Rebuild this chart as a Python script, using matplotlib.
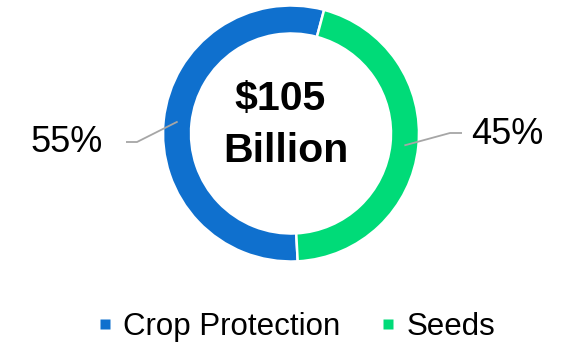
import matplotlib
matplotlib.use("Agg")
import matplotlib.pyplot as plt
from matplotlib.lines import Line2D
import numpy as np

categories = ["Crop Protection", "Seeds"]
shares = [55, 45]
pct_labels = ["55%", "45%"]
center_lines = ["$105", "Billion"]
colors = ["#0F70CE", "#00DB78"]

W, H = 564, 345
fig = plt.figure(figsize=(W / 100, H / 100), dpi=100)
ax = fig.add_axes([0, 0, 1, 1])

cx, cy = 291, 211.5
R, ring = 128, 28
start = -87

wedges, _ = ax.pie(shares, colors=colors, startangle=start, counterclock=False,
                   radius=R, center=(cx, cy),
                   wedgeprops=dict(width=ring, edgecolor="white", linewidth=1.8))
ax.set_xlim(0, W)
ax.set_ylim(0, H)
ax.set_aspect("equal")
ax.axis("off")

fam = ["Liberation Sans", "DejaVu Sans"]
plt.rcParams["font.family"] = fam

# leader lines and percentage labels
label_pos = [(67, 202, 126, 137, 203), (507, 210, 462, 450, 212)]
for w, txt, (tx, ty, ex, kx, ky) in zip(wedges, pct_labels, label_pos):
    ang = np.deg2rad((w.theta1 + w.theta2) / 2)
    rm = R - ring / 2
    px, py = cx + rm * np.cos(ang), cy + rm * np.sin(ang)
    ax.plot([px, kx, ex], [py, ky, ky], color="#A6A6A6", lw=1.3, solid_capstyle="butt")
    ax.text(tx, ty, txt, ha="center", va="center", fontsize=26, family=fam)

ax.text(280, H - 99, center_lines[0], ha="center", va="center", fontsize=29.5,
        fontweight="bold", family=fam)
ax.text(286, H - 151, center_lines[1], ha="center", va="center", fontsize=29.5,
        fontweight="bold", family=fam)

handles = [Line2D([], [], marker="s", linestyle="none", markersize=6.8,
                  markerfacecolor=c, markeredgecolor="none") for c in colors]
leg = fig.legend(handles, categories, loc="center", bbox_to_anchor=(296 / W, (H - 327) / H),
                 ncol=2, frameon=False, handlelength=0.5, handletextpad=0.35,
                 columnspacing=1.25, prop={"family": fam, "size": 22.5})

fig.savefig("out.png", dpi=100)
